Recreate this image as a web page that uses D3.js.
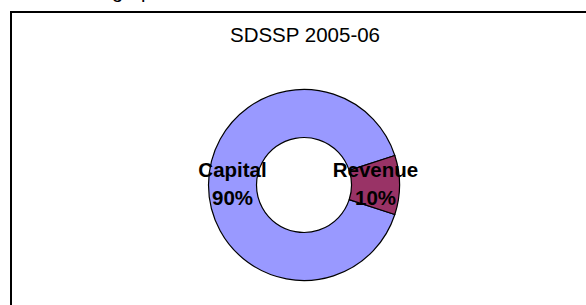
<!DOCTYPE html>
<html>
<head>
<meta charset="utf-8">
<script src="https://cdn.jsdelivr.net/npm/d3@7"></script>
<style>
    body { margin: 0; background: #fff; }
    svg { display: block; font-family: "Liberation Sans", Arial, sans-serif; }
</style>
</head>
<body>
<div id="chart-container"></div>
<script>
// Chart data
const categories = ['Capital', 'Revenue'];
const values = [90, 10];
const colors = ['#9999ff', '#993366'];
const chartTitle = 'SDSSP 2005-06';

const width = 586;
const height = 305;

const svg = d3.select('#chart-container')
    .append('svg')
    .attr('width', width)
    .attr('height', height);

// Fragment of the document line above the chart (cut off at the top)
svg.append('text')
    .attr('x', 112)
    .attr('y', -2)
    .attr('font-size', '20px')
    .attr('fill', '#000')
    .text('graph');

// Chart area border (runs off the right and bottom edges)
svg.append('rect')
    .attr('x', 11)
    .attr('y', 12)
    .attr('width', 620)
    .attr('height', 340)
    .attr('fill', '#fff')
    .attr('stroke', '#000')
    .attr('stroke-width', 2);

// Title
svg.append('text')
    .attr('x', 305)
    .attr('y', 42)
    .attr('text-anchor', 'middle')
    .attr('font-size', '20.5px')
    .attr('fill', '#000')
    .text(chartTitle);

const cx = 304, cy = 185;
const outerR = 95.5, innerR = 47.5;

// Revenue slice is centred at 3 o'clock
const pie = d3.pie()
    .sort(null)
    .startAngle(108 * Math.PI / 180)
    .endAngle(468 * Math.PI / 180);

const arc = d3.arc()
    .innerRadius(innerR)
    .outerRadius(outerR);

const total = d3.sum(values);
const arcs = pie(values);

const g = svg.append('g')
    .attr('transform', `translate(${cx},${cy})`);

g.selectAll('path')
    .data(arcs)
    .join('path')
    .attr('d', arc)
    .attr('fill', (d, i) => colors[i])
    .attr('stroke', '#000')
    .attr('stroke-width', 1.2)
    .attr('stroke-linejoin', 'round');

// Data labels: name + percentage, centred on each slice
const labels = g.selectAll('text.label')
    .data(arcs)
    .join('text')
    .attr('class', 'label')
    .attr('text-anchor', 'middle')
    .attr('font-size', '20.5px')
    .attr('font-weight', 'bold')
    .attr('fill', '#000')
    .attr('transform', d => {
        const [x, y] = arc.centroid(d);
        return `translate(${x},${y})`;
    });

labels.append('tspan')
    .attr('x', 0)
    .attr('y', -8)
    .text((d, i) => categories[i]);

labels.append('tspan')
    .attr('x', 0)
    .attr('y', 20)
    .text(d => `${Math.round(d.value / total * 100)}%`);
</script>
</body>
</html>
